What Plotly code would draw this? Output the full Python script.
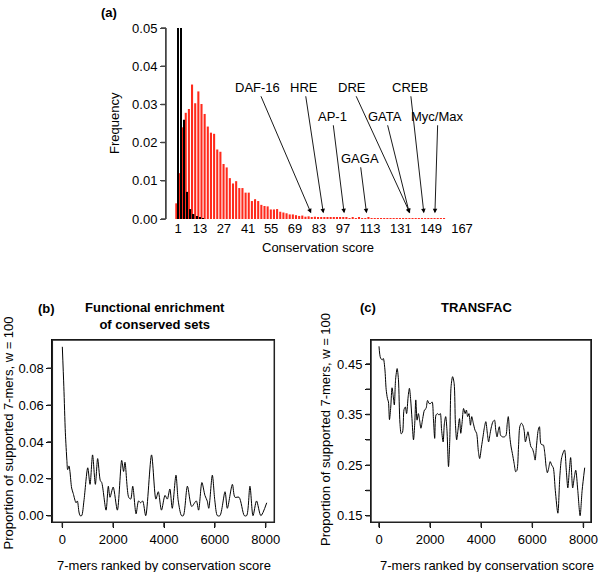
"""Conservation score histogram + sliding-window enrichment (Plotly)"""

import plotly.graph_objects as go

W, H = 600, 572
FONT = "Liberation Sans, Arial, Helvetica, sans-serif"

# (a) 保存スコアの分布 (bar index 順)
red_freq = [
    0.0041, 0.0120, 0.0240, 0.0278, 0.0288, 0.0352, 0.0303, 0.0334, 0.0301, 0.0275,
    0.0242, 0.0226, 0.0223, 0.0182, 0.0176, 0.0144, 0.0135, 0.0107, 0.0093, 0.0099,
    0.0081, 0.0081, 0.0069, 0.0069, 0.0047, 0.0052, 0.0047, 0.0037, 0.0034, 0.0033,
    0.0025, 0.0025, 0.0026, 0.0019, 0.0017, 0.0015, 0.0012, 0.0012, 0.0010, 0.0008,
    0.0009, 0.0006, 0.0007, 0.0005, 0.0006, 0.0004, 0.0004, 0.0003, 0.0004, 0.0003,
    0.0003, 0.0003, 0.0003, 0.0003, 0.0003, 0.0002, 0.0003, 0.0002, 0.0003, 0.0002,
    0.0002, 0.0003, 0.0002, 0.0002, 0.0002, 0.0002, 0.0002, 0.0002, 0.0002, 0.0002,
    0.0002, 0.0002, 0.0002, 0.0002, 0.0002, 0.0002, 0.0002, 0.0002, 0.0002, 0.0002,
    0.0002, 0.0002, 0.0002, 0.0002, 0.0002, 0.0002,
]
black_freq = [0.060, 0.055, 0.026, 0.0071, 0.0026, 0.0013, 0.0008, 0.0003, 0.0001]

score_tick_pos = [0.6, 7.5, 15.1, 22.8, 30.1, 37.7, 45.3, 52.9, 61.5, 71.3, 80.9, 90.7]
score_tick_text = ["1", "13", "27", "41", "55", "69", "83", "97", "113", "131", "149", "167"]
freq_ticks = [0, 0.01, 0.02, 0.03, 0.04, 0.05]

# 既知モチーフ: 名前, 矢印の先 (bar index), テキストへのオフセット(px)
motif_names = ["DAF-16", "HRE", "AP-1", "GAGA", "DRE", "GATA", "CREB", "Myc/Max"]
motif_pos = [42.8, 46.7, 53.3, 60.4, 74.2, 74.0, 78.6, 82.1]
motif_ax = [-54, -19, -12, -7, -58, -24, -14, 3]
motif_ay = [-126, -126, -97, -55, -126, -97, -126, -97]

rank_ticks = [0, 2000, 4000, 6000, 8000]

# (b) Functional enrichment of conserved sets
b_rank = [
    0, 60, 120, 180, 210, 262, 300, 367, 430, 540, 590, 655, 700, 760, 850, 1000,
    1090, 1190, 1300, 1390, 1495, 1550, 1720, 1810, 1875, 2000, 2165, 2335, 2410,
    2465, 2610, 2690, 2770, 2900, 3000, 3080, 3160, 3280, 3510, 3680, 3775, 3900,
    4040, 4130, 4230, 4325, 4470, 4560, 4690, 4760, 4920, 5090, 5270, 5360, 5490,
    5610, 5700, 5760, 5900, 6000, 6100, 6200, 6400, 6490, 6690, 6790, 6950, 7160,
    7250, 7380, 7500, 7640, 7810, 8040,
]
b_prop = [
    0.0917, 0.070, 0.045, 0.030, 0.025, 0.027, 0.024, 0.015, 0.012, 0.007, 0.008,
    0.002, 0.000, 0.000, 0.008, 0.026, 0.017, 0.033, 0.017, 0.031, 0.019, 0.018,
    0.003, 0.016, 0.010, 0.0155, 0.003, 0.030, 0.024, 0.029, 0.010, 0.009, 0.016,
    0.001, 0.008, 0.007, 0.008, 0.000, 0.033, 0.009, 0.013, 0.003, 0.011, 0.009,
    0.0145, 0.004, 0.022, 0.008, 0.000, 0.000, 0.016, 0.005, 0.008, 0.003, 0.018,
    0.011, 0.008, 0.004, 0.022, 0.008, 0.000, 0.000, 0.013, 0.004, 0.017, 0.010,
    0.010, 0.000, 0.000, 0.016, 0.000, 0.008, 0.000, 0.007,
]
b_ticks = [0, 0.02, 0.04, 0.06, 0.08]

# (c) TRANSFAC
c_rank = [
    0, 60, 130, 170, 230, 280, 330, 370, 410, 460, 510, 560, 600, 650, 710, 760,
    820, 870, 920, 980, 1030, 1080, 1140, 1190, 1240, 1290, 1350, 1400, 1440, 1490,
    1540, 1590, 1640, 1710, 1780, 1840, 1900, 1960, 2020, 2080, 2130, 2180, 2230,
    2290, 2350, 2400, 2450, 2510, 2560, 2610, 2660, 2720, 2770, 2820, 2880, 2940,
    2990, 3040, 3090, 3150, 3200, 3250, 3310, 3370, 3420, 3470, 3520, 3580, 3630,
    3690, 3760, 3820, 3890, 3940, 4010, 4070, 4120, 4180, 4240, 4290, 4350, 4400,
    4460, 4520, 4570, 4620, 4670, 4710, 4760, 4830, 4910, 4970, 5020, 5060, 5120,
    5170, 5220, 5290, 5350, 5400, 5460, 5510, 5570, 5630, 5680, 5730, 5780, 5830,
    5890, 5950, 6000, 6060, 6110, 6160, 6230, 6280, 6330, 6380, 6430, 6490, 6540,
    6590, 6640, 6700, 6760, 6820, 6900, 7000, 7080, 7150, 7260, 7330, 7390, 7450,
    7500, 7580, 7640, 7700, 7780, 7870, 7950, 8050,
]
c_prop = [
    0.485, 0.462, 0.458, 0.461, 0.440, 0.400, 0.382, 0.375, 0.340, 0.365, 0.403,
    0.385, 0.369, 0.420, 0.441, 0.420, 0.333, 0.312, 0.315, 0.360, 0.365, 0.352,
    0.385, 0.402, 0.379, 0.342, 0.300, 0.333, 0.379, 0.339, 0.352, 0.339, 0.323,
    0.342, 0.359, 0.362, 0.378, 0.372, 0.372, 0.375, 0.342, 0.303, 0.349, 0.352,
    0.349, 0.352, 0.319, 0.296, 0.333, 0.346, 0.319, 0.247, 0.300, 0.405, 0.425,
    0.412, 0.333, 0.300, 0.319, 0.342, 0.313, 0.333, 0.362, 0.352, 0.359, 0.346,
    0.352, 0.329, 0.346, 0.333, 0.319, 0.313, 0.277, 0.263, 0.286, 0.306, 0.323,
    0.336, 0.313, 0.296, 0.313, 0.326, 0.336, 0.339, 0.319, 0.306, 0.319, 0.326,
    0.309, 0.306, 0.306, 0.309, 0.333, 0.346, 0.306, 0.286, 0.273, 0.253, 0.237,
    0.240, 0.286, 0.326, 0.333, 0.329, 0.319, 0.296, 0.306, 0.316, 0.300, 0.286,
    0.283, 0.273, 0.260, 0.286, 0.319, 0.326, 0.293, 0.290, 0.290, 0.273, 0.247,
    0.235, 0.244, 0.257, 0.250, 0.245, 0.200, 0.155, 0.230, 0.265, 0.280, 0.240,
    0.205, 0.240, 0.265, 0.205, 0.225, 0.240, 0.200, 0.150, 0.200, 0.245,
]
c_ticks = [0.15, 0.20, 0.25, 0.30, 0.35, 0.40, 0.45]
c_tick_text = ["0.15", "", "0.25", "", "0.35", "", "0.45"]

# パネルの配置 (px) と軸範囲
PANEL_A = dict(L=166, R=470, T=28, B=219, xr=[-3.27, 93.24], yr=[0, 0.05])
PANEL_B = dict(L=52.3, R=274.3, T=340, B=522.3, xr=[-394, 8338], yr=[-0.0036, 0.0954])
PANEL_C = dict(L=371, R=591, T=340, B=522.3, xr=[-313, 8297], yr=[0.137, 0.4975])

LINE_T = 0.75  # 枠線の半幅 (px)


def px(x, y):
    """ピクセル座標 -> paper座標"""
    return x / W, 1 - y / H


def dom(p):
    return [p["L"] / W, p["R"] / W], [1 - p["B"] / H, 1 - p["T"] / H]


def to_px(p, x=None, y=None):
    """データ値 -> ページ上の px 位置"""
    if x is not None:
        return p["L"] + (x - p["xr"][0]) / (p["xr"][1] - p["xr"][0]) * (p["R"] - p["L"])
    return p["B"] - (y - p["yr"][0]) / (p["yr"][1] - p["yr"][0]) * (p["B"] - p["T"])


def text(x, y, s, size=13, bold=False, angle=0):
    px_, py_ = px(x, y)
    return dict(
        x=px_, y=py_, xref="paper", yref="paper", text=f"<b>{s}</b>" if bold else s,
        showarrow=False, textangle=angle, xanchor="center", yanchor="middle",
        font=dict(size=size, color="black", family=FONT),
    )


# --- 枠線・目盛りは塗りつぶしポリゴンで描く (細いストロークが写らない環境のため)
def poly_rect(xs, ys, x0, y0, x1, y1):
    xs += [x0, x1, x1, x0, x0, None]
    ys += [y0, y0, y1, y1, y0, None]


def box_ring(xs, ys, p, t=LINE_T):
    L, R, T, B = p["L"], p["R"], p["T"], p["B"]
    # 外側 (時計回り) -> 内側 (反時計回り) で穴あきの枠
    xs += [L - t, R + t, R + t, L - t, L - t, L + t, L + t, R - t, R - t, L + t, L - t, None]
    ys += [T - t, T - t, B + t, B + t, T - t, T + t, B - t, B - t, T + t, T + t, T - t, None]


def ticks_poly(xs, ys, p, xticks, yticks, ln=5, t=LINE_T):
    for v in xticks:
        xp = to_px(p, x=v)
        poly_rect(xs, ys, xp - t, p["B"], xp + t, p["B"] + ln)
    for v in yticks:
        yp = to_px(p, y=v)
        poly_rect(xs, ys, p["L"] - ln, yp - t, p["L"], yp + t)


fig = go.Figure()

# --- (a) ヒストグラム
fig.add_trace(go.Bar(
    x=list(range(len(red_freq))), y=red_freq,
    width=0.66, offset=-0.33,
    marker=dict(color="#ff2a1c", line=dict(width=0)),
    xaxis="x", yaxis="y", showlegend=False,
))
fig.add_trace(go.Bar(
    x=list(range(len(black_freq))), y=black_freq,
    width=0.45, offset=0.27,
    marker=dict(color="black", line=dict(width=0)),
    xaxis="x", yaxis="y", showlegend=False,
))

# --- (b), (c) ライン
fig.add_trace(go.Scatter(
    x=b_rank, y=b_prop, mode="lines",
    line=dict(color="black", width=1, shape="spline", smoothing=0.8),
    xaxis="x2", yaxis="y2", showlegend=False,
))
fig.add_trace(go.Scatter(
    x=c_rank, y=c_prop, mode="lines",
    line=dict(color="black", width=1, shape="spline", smoothing=0.8),
    xaxis="x3", yaxis="y3", showlegend=False,
))

# --- 枠と目盛り (ページ全体を覆う px 座標の補助軸 x4/y4 上に描く)
fx, fy = [], []
box_ring(fx, fy, PANEL_B)
box_ring(fx, fy, PANEL_C)
ticks_poly(fx, fy, PANEL_B, rank_ticks, b_ticks)
ticks_poly(fx, fy, PANEL_C, rank_ticks, c_ticks)
fig.add_trace(go.Scatter(
    x=fx, y=fy, mode="lines", fill="toself", fillcolor="#222",
    line=dict(width=0, color="#222"), xaxis="x4", yaxis="y4",
    showlegend=False, hoverinfo="skip",
))

ax_x, ax_y = [], []
poly_rect(ax_x, ax_y, PANEL_A["L"] - LINE_T, PANEL_A["T"], PANEL_A["L"] + LINE_T, PANEL_A["B"])
ticks_poly(ax_x, ax_y, PANEL_A, [], freq_ticks)
fig.add_trace(go.Scatter(
    x=ax_x, y=ax_y, mode="lines", fill="toself", fillcolor="#444",
    line=dict(width=0, color="#444"), xaxis="x4", yaxis="y4",
    showlegend=False, hoverinfo="skip",
))

tickfont = dict(size=13, color="black", family=FONT)
box = dict(showline=True, linecolor="black", linewidth=1, mirror=True,
           showgrid=False, zeroline=False, ticks="outside", ticklen=5,
           tickcolor="black", tickwidth=1, tickfont=tickfont)

xa_dom, ya_dom = dom(PANEL_A)
xb_dom, yb_dom = dom(PANEL_B)
xc_dom, yc_dom = dom(PANEL_C)

fig.update_layout(
    template="none",
    width=W, height=H,
    margin=dict(l=0, r=0, t=0, b=0),
    paper_bgcolor="white", plot_bgcolor="rgba(255,255,255,0)",
    barmode="overlay",
    font=dict(family=FONT, color="black"),
    xaxis=dict(
        anchor="y", domain=xa_dom, range=PANEL_A["xr"],
        showline=False, showgrid=False, zeroline=False, ticks="",
        tickvals=score_tick_pos, ticktext=score_tick_text, tickfont=tickfont,
    ),
    yaxis=dict(
        anchor="x", domain=ya_dom, range=PANEL_A["yr"],
        showline=True, linecolor="#444", linewidth=1, showgrid=False, zeroline=False,
        ticks="outside", ticklen=5, tickcolor="#444", tickwidth=1,
        tickvals=freq_ticks, tickformat=".2f", tickfont=tickfont,
    ),
    xaxis2=dict(box, anchor="y2", domain=xb_dom, range=PANEL_B["xr"], tickvals=rank_ticks),
    yaxis2=dict(box, anchor="x2", domain=yb_dom, range=PANEL_B["yr"],
                tickvals=b_ticks, tickformat=".2f"),
    xaxis3=dict(box, anchor="y3", domain=xc_dom, range=PANEL_C["xr"], tickvals=rank_ticks),
    yaxis3=dict(box, anchor="x3", domain=yc_dom, range=PANEL_C["yr"],
                tickvals=c_ticks, ticktext=c_tick_text),
    # ページ全体 = px 座標
    xaxis4=dict(anchor="y4", domain=[0, 1], range=[0, W], visible=False, fixedrange=True),
    yaxis4=dict(anchor="x4", domain=[0, 1], range=[H, 0], visible=False, fixedrange=True),
)

annotations = [
    text(109, 13, "(a)", bold=True),
    text(115, 123, "Frequency", angle=-90),
    text(318, 248, "Conservation score"),
    text(46.7, 308, "(b)", bold=True),
    text(155, 316, "Functional enrichment<br>of conserved sets", bold=True),
    text(164, 565, "7-mers ranked by conservation score"),
    text(7.5, 433, "Proportion of supported 7-mers, w = 100", angle=-90),
    text(368.3, 307, "(c)", bold=True),
    text(476.7, 307, "TRANSFAC", bold=True),
    text(487, 565, "7-mers ranked by conservation score"),
    text(325, 430, "Proportion of supported 7-mers, w = 100", angle=-90),
]

# モチーフの矢印
for name, pos, ax, ay in zip(motif_names, motif_pos, motif_ax, motif_ay):
    annotations.append(dict(
        x=pos, y=0.0015, xref="x", yref="y", text=name,
        showarrow=True, arrowhead=2, arrowsize=1, arrowwidth=0.9, arrowcolor="black",
        ax=ax, ay=ay, font=dict(size=13, color="black", family=FONT),
    ))

fig.update_layout(annotations=annotations)

# ページ余白を消して 600x572 にぴったり合わせる
fig.write_html(
    "out.html",
    config={"displayModeBar": False},
    post_script="document.body.style.margin='0px';document.body.style.overflow='hidden';",
)
